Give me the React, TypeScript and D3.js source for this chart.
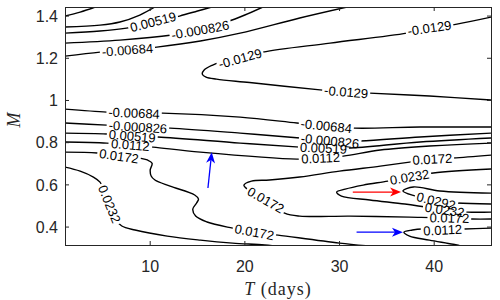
import React from 'react';
import * as d3 from 'd3';

type Pt = [number, number];

const xDomain: Pt = [1, 46];
const yDomain: Pt = [0.315, 1.443];
const xTicks = [10, 20, 30, 40];
const yTicks = [0.4, 0.6, 0.8, 1, 1.2, 1.4];
const yTickLabels = ['0.4', '0.6', '0.8', '1', '1.2', '1.4'];

// contour lines (T, M)
const cTop0172: Pt[] = [[1.0, 1.400], [2.6, 1.419], [4.2, 1.443]];
const cTop0112: Pt[] = [[1.0, 1.348], [4.7, 1.357], [6.8, 1.372], [8.9, 1.405], [10.5, 1.443]];
const cTop00519: Pt[] = [[1.0, 1.319], [4.7, 1.329], [7.5, 1.343], [10.3, 1.367], [13.1, 1.400], [15.0, 1.424], [16.5, 1.443]];
const cTopM000826: Pt[] = [[1.0, 1.272], [6.8, 1.286], [12.3, 1.310], [15.3, 1.334], [18.1, 1.372], [20.0, 1.405], [21.9, 1.443]];
const cTopM00684: Pt[] = [[1.0, 1.210], [4.7, 1.229], [7.6, 1.239], [10.7, 1.253], [15.3, 1.282], [19.5, 1.319], [25.8, 1.391], [30.8, 1.443]];
const cMin0129: Pt[] = [[46, 1.395], [42.4, 1.362], [39.5, 1.343], [37.1, 1.319], [29.0, 1.272], [21.9, 1.229], [19.5, 1.199], [17.4, 1.182], [16.6, 1.168], [15.7, 1.144], [15.5, 1.125], [15.9, 1.111], [17.0, 1.101], [20.5, 1.085], [28.2, 1.049], [30.7, 1.040], [33.2, 1.035], [39.5, 1.021], [46, 1.002]];
const cMidM00684: Pt[] = [[1.0, 0.959], [5.4, 0.945], [8.3, 0.940], [11.3, 0.940], [19.5, 0.921], [25.5, 0.893], [28.6, 0.879], [31.6, 0.869], [38.5, 0.874], [46, 0.874]];
const cMidM000826: Pt[] = [[1.0, 0.893], [5.4, 0.883], [8.7, 0.874], [12.1, 0.869], [19.5, 0.845], [25.8, 0.822], [29.0, 0.808], [32.2, 0.808], [38.5, 0.827], [46, 0.845]];
const cMid00519: Pt[] = [[1.0, 0.845], [5.4, 0.841], [8.1, 0.831], [10.8, 0.827], [19.5, 0.798], [25.8, 0.779], [28.3, 0.774], [30.9, 0.774], [38.5, 0.803], [46, 0.822]];
const cMid0112: Pt[] = [[1.0, 0.803], [5.4, 0.798], [7.9, 0.789], [10.3, 0.779], [15.3, 0.755], [25.5, 0.722], [28.0, 0.727], [30.4, 0.736], [34.3, 0.765], [39.5, 0.784], [46, 0.798]];
const cLow0172: Pt[] = [[1.0, 0.755], [4.4, 0.751], [6.7, 0.736], [8.9, 0.727], [9.7, 0.718], [10.2, 0.703], [10.0, 0.670], [10.1, 0.642], [10.5, 0.623], [12.1, 0.594], [14.7, 0.552], [15.1, 0.533], [14.9, 0.514], [14.5, 0.485], [14.8, 0.452], [16.0, 0.424], [18.7, 0.395], [21.0, 0.376], [23.5, 0.362], [30.0, 0.324], [33.7, 0.308]];
const cLow0232: Pt[] = [[1.0, 0.684], [2.6, 0.665], [4.0, 0.637], [4.7, 0.613], [5.0, 0.585], [5.7, 0.509], [6.4, 0.433], [7.0, 0.405], [8.4, 0.386], [11.8, 0.357], [15.3, 0.338], [18.7, 0.324], [22.1, 0.315], [24.2, 0.305]];
const cMax0172: Pt[] = [[46, 0.741], [42.0, 0.727], [39.8, 0.722], [37.4, 0.708], [34.3, 0.689], [30.0, 0.665], [25.8, 0.637], [22.6, 0.623], [20.7, 0.618], [19.9, 0.599], [20.5, 0.571], [22.2, 0.528], [24.2, 0.466], [25.8, 0.452], [31.1, 0.452], [37.4, 0.447], [41.6, 0.443], [44.0, 0.438], [46, 0.438]];
const cMax0232: Pt[] = [[46, 0.675], [39.9, 0.656], [37.4, 0.637], [35.1, 0.618], [32.5, 0.599], [30.6, 0.580], [29.7, 0.566], [30.2, 0.547], [33.2, 0.528], [36.9, 0.509], [39.0, 0.495], [41.1, 0.481], [43.5, 0.471], [46, 0.471]];
const cMax0292: Pt[] = [[46, 0.561], [40.6, 0.571], [37.8, 0.590], [36.7, 0.571], [38.0, 0.547], [40.2, 0.523], [42.4, 0.514], [46, 0.509]];
const cLowR0112: Pt[] = [[46, 0.395], [43.2, 0.391], [40.9, 0.386], [38.7, 0.391], [37.7, 0.386], [36.8, 0.376], [37.4, 0.357], [39.5, 0.338], [42.4, 0.315], [43.2, 0.305]];

// label anchors (T, M) and texts per contour
const contourList: { pts: Pt[]; labels: Pt[]; text: string }[] = [
  { pts: cTop0172, labels: [], text: '0.0172' },
  { pts: cTop0112, labels: [], text: '0.0112' },
  { pts: cTop00519, labels: [[10.3, 1.372]], text: '0.00519' },
  { pts: cTopM000826, labels: [[15.3, 1.334]], text: '-0.000826' },
  { pts: cTopM00684, labels: [[7.6, 1.239]], text: '-0.00684' },
  { pts: cMin0129, labels: [[39.5, 1.343], [19.5, 1.199], [30.7, 1.040]], text: '-0.0129' },
  { pts: cMidM00684, labels: [[8.3, 0.940], [28.6, 0.879]], text: '-0.00684' },
  { pts: cMidM000826, labels: [[8.7, 0.874], [29.0, 0.808]], text: '-0.000826' },
  { pts: cMid00519, labels: [[8.1, 0.831], [28.3, 0.774]], text: '0.00519' },
  { pts: cMid0112, labels: [[7.9, 0.789], [28.0, 0.727]], text: '0.0112' },
  { pts: cLow0172, labels: [[6.7, 0.736], [21.0, 0.376]], text: '0.0172' },
  { pts: cLow0232, labels: [[5.7, 0.509]], text: '0.0232' },
  { pts: cMax0172, labels: [[39.8, 0.722], [22.2, 0.528], [41.6, 0.443]], text: '0.0172' },
  { pts: cMax0232, labels: [[37.4, 0.637], [41.1, 0.481]], text: '0.0232' },
  { pts: cMax0292, labels: [[40.2, 0.523]], text: '0.0292' },
  { pts: cLowR0112, labels: [[40.9, 0.386]], text: '0.0112' },
];

const arrowBlueUp: Pt[] = [[16.1, 0.585], [16.5, 0.755]];
const arrowRed: Pt[] = [[31.4, 0.566], [36.5, 0.566]];
const arrowBlueRight: Pt[] = [[31.8, 0.376], [36.7, 0.376]];
const arrowList = [
  { pts: arrowBlueUp, color: '#0000ff' },
  { pts: arrowRed, color: '#ff0000' },
  { pts: arrowBlueRight, color: '#0000ff' },
];

const L = 65, R = 491, T = 7, B = 245;
const AX = '#262626';
const LABEL_FS = 13;

function textWidth(s: string) {
  let w = 0;
  for (const c of s) w += c === '.' ? 0.278 : c === '-' ? 0.333 : 0.556;
  return w * LABEL_FS;
}

export default function App() {
  const x = d3.scaleLinear().domain(xDomain).range([L, R]);
  const y = d3.scaleLinear().domain(yDomain).range([B, T]);
  const line = d3.line<Pt>().x(d => x(d[0])).y(d => y(d[1])).curve(d3.curveCatmullRom.alpha(0.5));

  const labelInfo = (pts: Pt[], a: Pt) => {
    const px = x(a[0]), py = y(a[1]);
    let best = Infinity, ang = 0;
    for (let i = 0; i < pts.length - 1; i++) {
      const x1 = x(pts[i][0]), y1 = y(pts[i][1]), x2 = x(pts[i + 1][0]), y2 = y(pts[i + 1][1]);
      const dx = x2 - x1, dy = y2 - y1;
      const len2 = dx * dx + dy * dy || 1;
      let t = ((px - x1) * dx + (py - y1) * dy) / len2;
      t = Math.max(0, Math.min(1, t));
      const qx = x1 + t * dx, qy = y1 + t * dy;
      const dd = (qx - px) ** 2 + (qy - py) ** 2;
      if (dd < best) { best = dd; ang = Math.atan2(dy, dx) * 180 / Math.PI; }
    }
    if (ang > 90) ang -= 180;
    if (ang < -90) ang += 180;
    return { px, py, ang };
  };

  return (
    <svg width={500} height={300} style={{ display: 'block', position: 'absolute', left: 0, top: 0 }}>
      <rect x={0} y={0} width={500} height={300} fill="#fff" />
      <defs>
        <clipPath id="plotclip"><rect x={L} y={T} width={R - L} height={B - T} /></clipPath>
        {contourList.map((c, i) => (
          <mask id={`mk${i}`} key={i} maskUnits="userSpaceOnUse" x={0} y={0} width={500} height={300}>
            <rect x={0} y={0} width={500} height={300} fill="#fff" />
            {c.labels.map((a, j) => {
              const { px, py, ang } = labelInfo(c.pts, a);
              const w = textWidth(c.text) + 4;
              return <rect key={j} x={-w / 2} y={-5} width={w} height={10} fill="#000" transform={`translate(${px},${py}) rotate(${ang})`} />;
            })}
          </mask>
        ))}
      </defs>
      <g clipPath="url(#plotclip)">
        {contourList.map((c, i) => (
          <path key={i} d={line(c.pts) || ''} fill="none" stroke="#000" strokeWidth={1.4} mask={`url(#mk${i})`} />
        ))}
      </g>
      {contourList.map((c, i) => c.labels.map((a, j) => {
        const { px, py, ang } = labelInfo(c.pts, a);
        return (
          <text key={`${i}-${j}`} transform={`translate(${px},${py}) rotate(${ang})`} textAnchor="middle" dy="0.35em"
            fontFamily="Liberation Sans, Arial, sans-serif" fontSize={LABEL_FS} fill="#000">{c.text}</text>
        );
      }))}
      {arrowList.map((a, i) => {
        const x0 = x(a.pts[0][0]), y0 = y(a.pts[0][1]), x1 = x(a.pts[1][0]), y1 = y(a.pts[1][1]);
        const len = Math.hypot(x1 - x0, y1 - y0);
        const ux = (x1 - x0) / len, uy = (y1 - y0) / len;
        const hl = 11, hw = 4.5;
        const bx = x1 - ux * hl, by = y1 - uy * hl;
        const pts = `${x1},${y1} ${bx - uy * hw},${by + ux * hw} ${x1 - ux * (hl - 3)},${y1 - uy * (hl - 3)} ${bx + uy * hw},${by - ux * hw}`;
        return (
          <g key={i}>
            <line x1={x0} y1={y0} x2={bx + ux * 3} y2={by + uy * 3} stroke={a.color} strokeWidth={1.3} />
            <polygon points={pts} fill={a.color} />
          </g>
        );
      })}
      {/* axes box */}
      <rect x={L} y={T} width={R - L} height={B - T} fill="none" stroke={AX} strokeWidth={1} shapeRendering="crispEdges" />
      {xTicks.map(t => (
        <g key={t}>
          <line x1={x(t)} x2={x(t)} y1={B} y2={B - 4} stroke={AX} />
          <line x1={x(t)} x2={x(t)} y1={T} y2={T + 4} stroke={AX} />
          <text x={x(t)} y={272} textAnchor="middle" fontFamily="Liberation Sans, Arial, sans-serif" fontSize={16} fill={AX}>{t}</text>
        </g>
      ))}
      {yTicks.map((t, i) => (
        <g key={t}>
          <line x1={L} x2={L + 4} y1={y(t)} y2={y(t)} stroke={AX} />
          <line x1={R} x2={R - 4} y1={y(t)} y2={y(t)} stroke={AX} />
          <text x={58} y={y(t)} dy="0.36em" textAnchor="end" fontFamily="Liberation Sans, Arial, sans-serif" fontSize={16} fill={AX}>{yTickLabels[i]}</text>
        </g>
      ))}
      <text x={278} y={295} textAnchor="middle" fontFamily="Liberation Serif, serif" fontSize={18} letterSpacing={1} fill={AX}>
        <tspan fontStyle="italic">T</tspan> (days)
      </text>
      <text transform="translate(20,120) rotate(-90)" textAnchor="middle" fontFamily="Liberation Serif, serif" fontStyle="italic" fontSize={18} fill={AX}>M</text>
    </svg>
  );
}
